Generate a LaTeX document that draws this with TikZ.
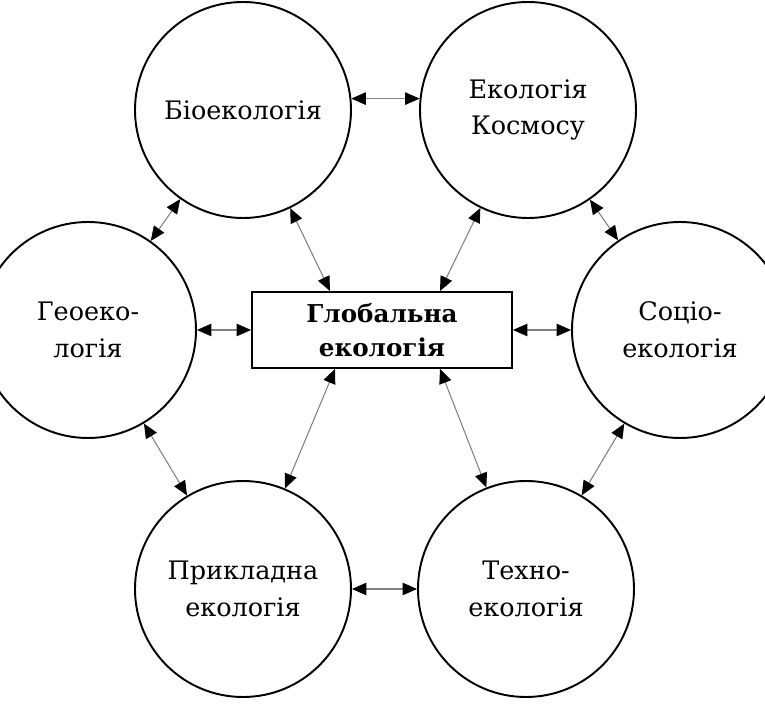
\documentclass[tikz,border=0pt]{standalone}
\usepackage{fontspec}
\setmainfont{DejaVu Serif}
\usetikzlibrary{arrows.meta,positioning}

\begin{document}
\begin{tikzpicture}[on grid,
                    eco/.style={circle,draw,line width=1.1pt,minimum size=4.32cm,align=center,
                                font=\fontsize{14.5}{21}\selectfont},
                    hub/.style={rectangle,draw,line width=1.1pt,minimum width=5.2cm,minimum height=1.52cm,
                                align=center,font=\fontsize{14}{19}\selectfont\bfseries},
                    tip/.tip={Triangle[length=2.9mm,width=2.5mm,color=black,fill=black]},
                    link/.style={gray,line width=0.6pt,tip-tip}]
                    \useasboundingbox (-7.64,-7.58) rectangle (7.66,6.6);
                    \node[hub] (glob) {Глобальна\\екологія};
                    \node[eco] (bio)    [above left=4.4cm and 2.78cm of glob]  {Біоекологія};
                    \node[eco] (kosm)   [above right=4.4cm and 2.92cm of glob] {Екологія\\Космосу};
                    \node[eco] (geo)    [left=5.88cm of glob]  {Геоеко-\\логія};
                    \node[eco] (socio)  [right=5.96cm of glob] {Соціо-\\екологія};
                    \node[eco] (pryk)   [below left=5.18cm and 2.78cm of glob]  {Прикладна\\екологія};
                    \node[eco] (techno) [below right=5.18cm and 2.88cm of glob] {Техно-\\екологія};
                    \path[link]
                        (bio.6) edge (kosm.174)
                        (bio) edge (geo)
                            edge ([xshift=-1.04cm]glob.north)
                        (kosm) edge (socio)
                            edge ([xshift=1.16cm]glob.north)
                        (geo) edge (glob)
                            edge (pryk)
                        (socio) edge (glob)
                            edge (techno)
                        (pryk) edge (techno)
                            edge ([xshift=-0.94cm]glob.south)
                        (techno) edge ([xshift=1.16cm]glob.south);
                \end{tikzpicture}
\end{document}
